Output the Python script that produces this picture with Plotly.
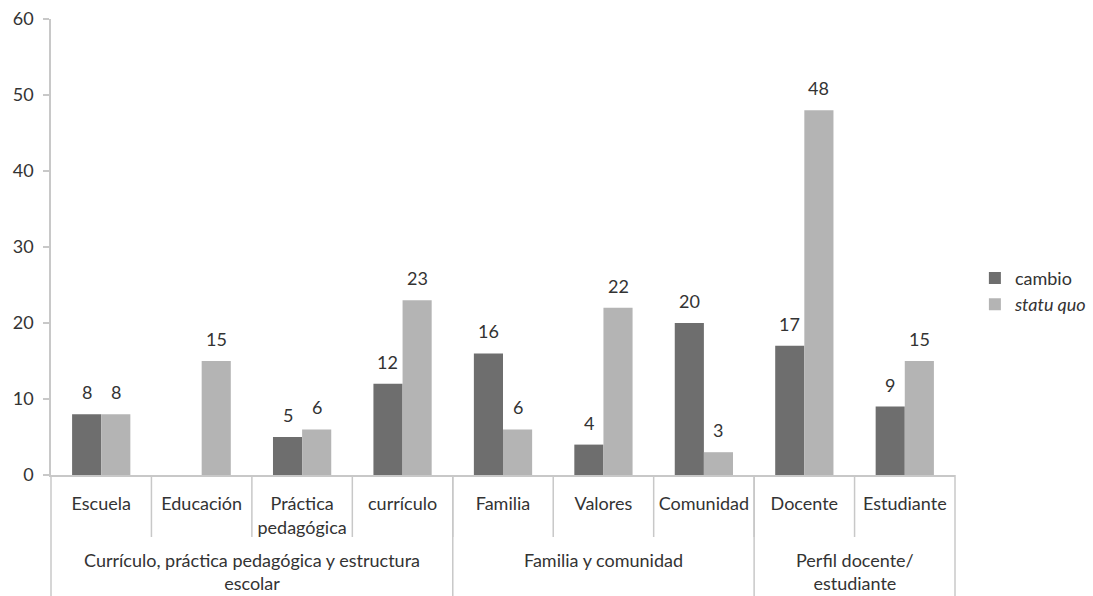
import plotly.graph_objects as go

categories = ["Escuela", "Educación", "Práctica<br>pedagógica", "currículo",
              "Familia", "Valores", "Comunidad", "Docente", "Estudiante"]
groups = ["Currículo, práctica pedagógica y estructura<br>escolar",
          "Familia y comunidad",
          "Perfil docente/<br>estudiante"]
group_sizes = [4, 3, 2]
cambio = [8, None, 5, 12, 16, 4, 20, 17, 9]
statu_quo = [8, 15, 6, 23, 6, 22, 3, 48, 15]
series_names = ["cambio", "<i>statu quo</i>"]
y_ticks = [0, 10, 20, 30, 40, 50, 60]

FONT = "Lato"
TXT = "#333333"
LINE = "#c8c8c8"
C_CAMBIO = "#6e6e6e"
C_SQ = "#b4b4b4"

fig = go.Figure()
fig.add_trace(go.Bar(x=categories, y=cambio, name=series_names[0],
                     marker=dict(color=C_CAMBIO, line=dict(width=0))))
fig.add_trace(go.Bar(x=categories, y=statu_quo, name=series_names[1],
                     marker=dict(color=C_SQ, line=dict(width=0))))

annotations = []
for vals, shift in ((cambio, -14.6), (statu_quo, 14.6)):
    for c, v in zip(categories, vals):
        if v is None:
            continue
        annotations.append(dict(x=c, y=v, xref="x", yref="y", text=str(v),
                                showarrow=False, xshift=shift, yshift=22,
                                font=dict(family=FONT, size=18, color=TXT)))

n = len(categories)
shapes = []
# inner category boundaries
for k in range(1, n):
    shapes.append(dict(type="line", xref="paper", yref="paper",
                       x0=k / n, x1=k / n, y0=0, y1=-62 / 456,
                       line=dict(color=LINE, width=1.5)))
# group dividers and group labels
start = 0
bounds = [0]
for g, size in zip(groups, group_sizes):
    center = start + (size - 1) / 2
    annotations.append(dict(x=center, y=-0.161, xref="x", yref="paper",
                            text=g, showarrow=False, yanchor="top",
                            borderpad=0,
                            font=dict(family=FONT, size=18, color=TXT)))
    start += size
    bounds.append(start)
for b in bounds:
    shapes.append(dict(type="line", xref="paper", yref="paper",
                       x0=b / n, x1=b / n, y0=0, y1=-0.3,
                       line=dict(color=LINE, width=1.5)))

fig.update_layout(
    width=1093, height=596,
    margin=dict(l=51, r=138, t=19, b=121, autoexpand=False),
    paper_bgcolor="white", plot_bgcolor="white",
    font=dict(family=FONT, size=18, color=TXT),
    barmode="group", bargap=0.42, bargroupgap=0,
    showlegend=True,
    legend=dict(x=1.022, xanchor="left", y=0.403, yanchor="middle",
                font=dict(family=FONT, size=18, color=TXT),
                bgcolor="rgba(0,0,0,0)", traceorder="normal"),
    shapes=shapes,
    annotations=annotations,
)
fig.update_xaxes(type="category", showline=True, linecolor=LINE, linewidth=1.5,
                 ticks="", showgrid=False, ticklabelstandoff=12,
                 tickfont=dict(family=FONT, size=18, color=TXT),
                 tickangle=0)
fig.update_yaxes(range=[0, 60], tickvals=y_ticks, showline=True, linecolor=LINE,
                 linewidth=1.5, ticks="outside", ticklen=6, tickcolor=LINE,
                 tickwidth=1.5, showgrid=False, zeroline=False,
                 ticklabelstandoff=6,
                 tickfont=dict(family=FONT, size=18, color=TXT))

fig.write_html("out.html")
